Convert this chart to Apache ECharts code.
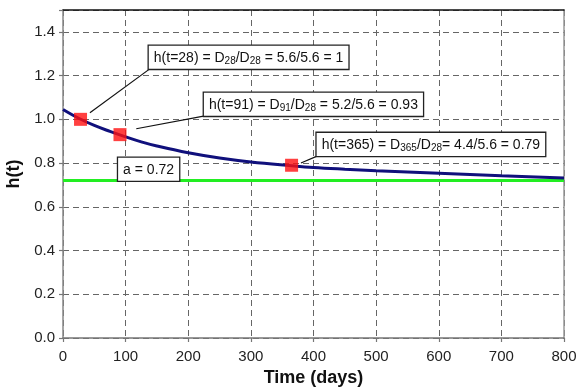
<!DOCTYPE html>
<html>
<head>
<meta charset="utf-8">
<script src="https://cdn.jsdelivr.net/npm/echarts@6/dist/echarts.min.js"></script>
<style>
html,body{margin:0;padding:0;background:#fff;}
#chart{width:579px;height:390px;}
</style>
</head>
<body>
<div id="chart"></div>
<script>
// ---- data ----
const timeDays = [0, 25, 50, 75, 100, 125, 150, 200, 250, 300, 365, 400, 450, 500, 600, 700, 800];
const hValues  = [1.045, 1.005, 0.972, 0.945, 0.92, 0.897, 0.878, 0.847, 0.823, 0.805, 0.788, 0.78, 0.772, 0.765, 0.753, 0.742, 0.732];
const markerT = [28, 91, 365];
const markerH = [1.0, 0.93, 0.79];
const aValue = 0.72;
const xRange = [0, 800];
const yRange = [0, 1.5];
const xTickStep = 100;
const yTickStep = 0.2;
const xName = 'Time (days)';
const yName = 'h(t)';
const boxTexts = [
  'h(t=28) = D{s|28}/D{s|28} = 5.6/5.6 = 1',
  'h(t=91) = D{s|91}/D{s|28} = 5.2/5.6 = 0.93',
  'h(t=365) = D{s|365}/D{s|28}= 4.4/5.6 = 0.79',
  'a = 0.72'
];
const boxAnchors = [[137, 1.336], [225, 1.121], [405, 0.938], [88, 0.824]];
const leaderStarts = [[43, 1.03], [117, 0.957], [380, 0.80], null];

const FONT = 'Liberation Sans, Arial, sans-serif';
const chart = echarts.init(document.getElementById('chart'), null, {renderer: 'canvas'});

const curve = timeDays.map((t, i) => [t, hValues[i]]);
const markers = markerT.map((t, i) => [t, markerH[i]]);

chart.setOption({
  animation: false,
  backgroundColor: '#fff',
  grid: {left: 63, right: 15, top: 10, bottom: 52, show: false, containLabel: false, outerBoundsMode: 'none'},
  xAxis: [{
    type: 'value', min: xRange[0], max: xRange[1], interval: xTickStep,
    name: xName, nameLocation: 'middle', nameGap: 31,
    nameTextStyle: {fontFamily: FONT, fontSize: 18, fontWeight: 'bold', color: '#111'},
    axisLine: {show: true, onZero: false, lineStyle: {color: '#777', width: 1.5}},
    axisTick: {show: true, length: 4, lineStyle: {color: '#777', width: 1.2}},
    axisLabel: {fontFamily: FONT, fontSize: 15, color: '#222', margin: 11},
    splitLine: {show: true, lineStyle: {color: '#666', type: [6, 4], width: 1}}
  }, {
    type: 'value', position: 'top', min: xRange[0], max: xRange[1],
    axisLine: {show: true, onZero: false, lineStyle: {color: '#111', width: 1.5}},
    axisTick: {show: false}, axisLabel: {show: false}, splitLine: {show: false}
  }],
  yAxis: [{
    type: 'value', min: yRange[0], max: yRange[1], interval: yTickStep,
    name: yName, nameLocation: 'middle', nameGap: 38, nameRotate: 90,
    nameTextStyle: {fontFamily: FONT, fontSize: 18, fontWeight: 'bold', color: '#111'},
    axisLine: {show: true, onZero: false, lineStyle: {color: '#888', width: 1.5}},
    axisTick: {show: true, length: 4, lineStyle: {color: '#777', width: 1.2}},
    axisLabel: {fontFamily: FONT, fontSize: 15, color: '#222', margin: 8,
      formatter: v => (v > 1.45 ? '' : v.toFixed(1))},
    splitLine: {show: true, lineStyle: {color: '#666', type: [6, 4], width: 1}}
  }, {
    type: 'value', position: 'right', min: yRange[0], max: yRange[1],
    axisLine: {show: true, onZero: false, lineStyle: {color: '#999', width: 1.5}},
    axisTick: {show: false}, axisLabel: {show: false}, splitLine: {show: false}
  }],
  series: [{
    type: 'line', name: 'a', data: [[xRange[0], aValue], [xRange[1], aValue]],
    symbol: 'none', lineStyle: {color: '#22ee22', width: 3}, z: 3
  }, {
    type: 'line', name: 'h(t)', data: curve, smooth: 0.4,
    symbol: 'none', lineStyle: {color: '#10107c', width: 3}, z: 4
  }, {
    type: 'scatter', name: 'points', data: markers,
    symbol: 'rect', symbolSize: 13, itemStyle: {color: '#ff1010'}, z: 5
  }]
});

function px(p) { return chart.convertToPixel({gridIndex: 0}, p); }
const elements = [];
boxTexts.forEach((txt, i) => {
  const tl = px(boxAnchors[i]);
  elements.push({
    type: 'text', x: tl[0], y: tl[1], z: 100,
    style: {
      text: txt, fontFamily: FONT, fontSize: 14, fill: '#111',
      align: 'left', verticalAlign: 'top',
      backgroundColor: '#fff', borderColor: '#222', borderWidth: 1.3,
      padding: [4, 5, 3, 5], lineHeight: 16,
      rich: {s: {fontSize: 10, fontFamily: FONT, fill: '#111', verticalAlign: 'bottom', lineHeight: 10, padding: [5, 0, 0, 0]}}
    }
  });
});
boxTexts.forEach((txt, i) => {
  if (!leaderStarts[i]) return;
  const s = px(leaderStarts[i]);
  const tl = px(boxAnchors[i]);
  elements.push({
    type: 'line', z: 90,
    shape: {x1: s[0], y1: s[1], x2: tl[0] + 1, y2: tl[1] + 23},
    style: {stroke: '#111', lineWidth: 1.2}
  });
});
chart.setOption({graphic: {elements}});
</script>
</body>
</html>
